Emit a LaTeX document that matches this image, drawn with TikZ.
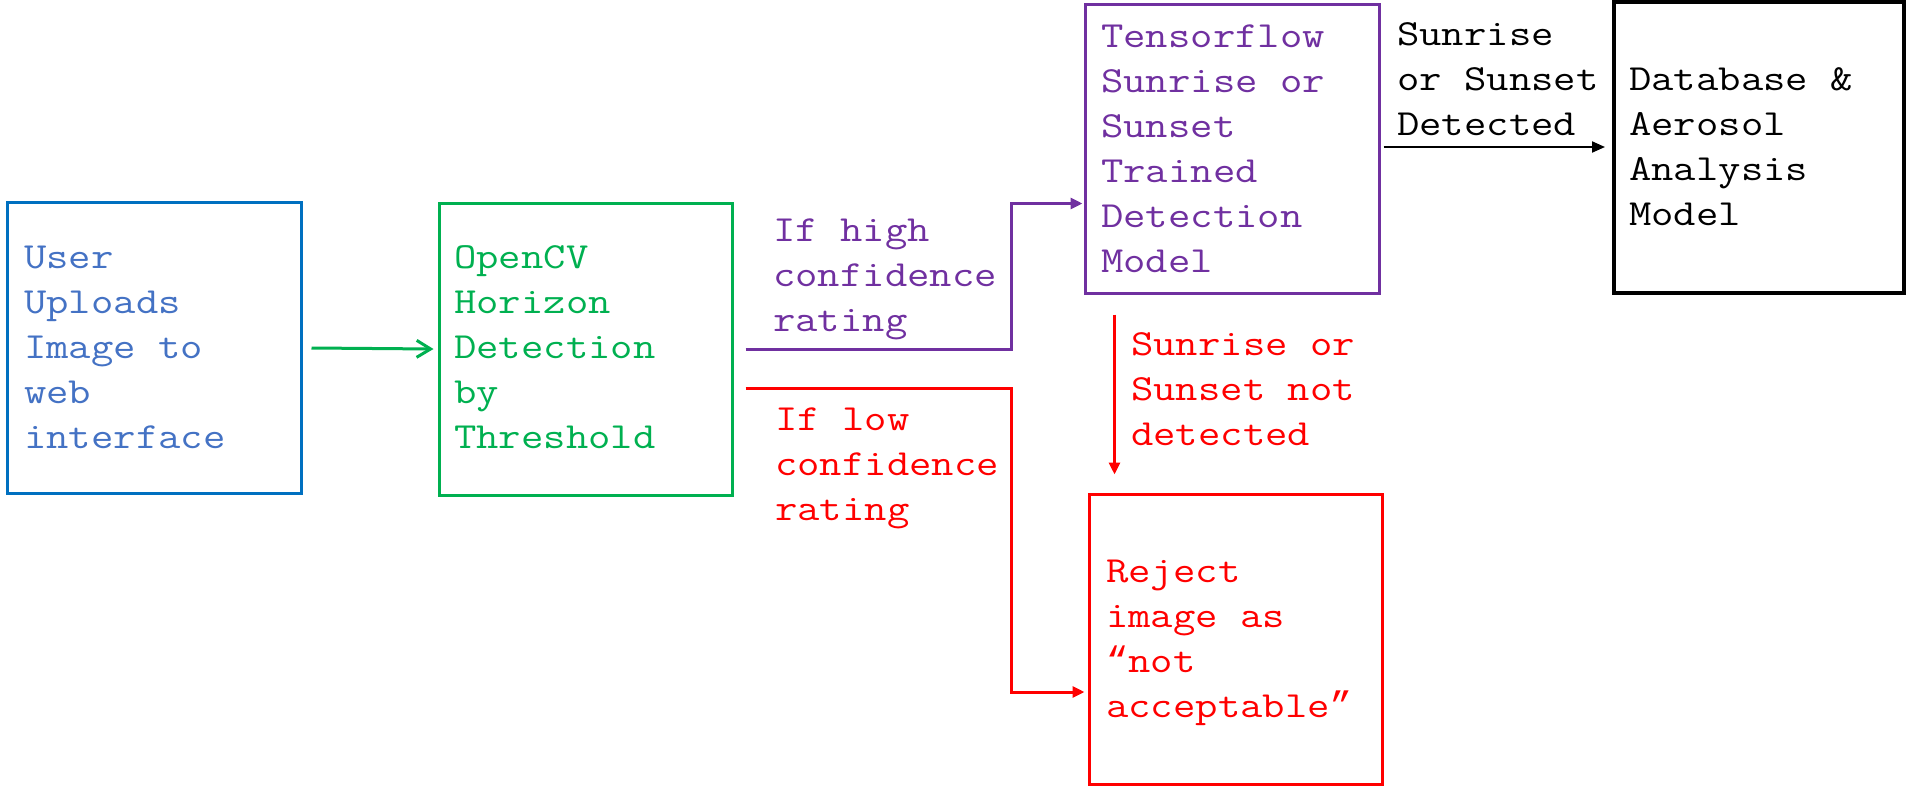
\documentclass[tikz,border=0pt]{standalone}
\usepackage{fontspec}
\setmonofont[FakeStretch=1.18]{Latin Modern Mono}
\newfontfamily\quotefont{Liberation Mono}
\usetikzlibrary{arrows.meta,calc}
\definecolor{cblue}{HTML}{0070C0}
\definecolor{ctblue}{HTML}{4472C4}
\definecolor{cgreen}{HTML}{00B050}
\definecolor{cpurple}{HTML}{7030A0}
\definecolor{cred}{HTML}{FF0000}
\begin{document}
\begin{tikzpicture}[x=1pt,y=-1pt,
  box/.style={draw,line width=3pt,inner sep=0pt},
  txt/.style={inner sep=0pt,anchor=base west,align=left,font=\ttfamily\fontsize{36.8}{45}\selectfont},
  conn/.style={line width=3pt},
  tri/.style={-{Triangle[length=12pt,width=11pt]}}]
\useasboundingbox (0,0) rectangle (1907,787);
% boxes
\node[box,cblue,minimum width=294pt,minimum height=291pt] (b1) at (154,348) {};
\node[box,cgreen,minimum width=293pt,minimum height=292pt] (b2) at (585.5,349) {};
\node[box,cpurple,minimum width=294pt,minimum height=289pt] (b3) at (1232,148.5) {};
\node[box,cred,minimum width=293pt,minimum height=290pt] (b4) at (1235.5,639) {};
\node[box,black,line width=4pt,minimum width=290pt,minimum height=291pt] (b5) at (1759,147) {};
% texts (anchored at the baseline of the last line)
\node[txt,ctblue] (t1) at (24,448) {User\\Uploads\\Image to\\web\\interface};
\node[txt,cgreen] (t2) at (454,448) {OpenCV\\Horizon\\Detection\\by\\Threshold};
\node[txt,cpurple] (t3) at (1101,272) {Tensorflow\\Sunrise or\\Sunset\\Trained\\Detection\\Model};
\node[txt,cred] (t4) at (1106,717) {Reject\\image as\\{\quotefont “}not\\acceptable{\quotefont ”}};
\node[txt,black] (t5) at (1629,225) {Database \&\\Aerosol\\Analysis\\Model};
\node[txt,cpurple] (l1) at (773,331) {If high\\confidence\\rating};
\node[txt,cred] (l2) at (775,520) {If low\\confidence\\rating};
\node[txt,cred] (l3) at (1131,445) {Sunrise or\\Sunset not\\detected};
\node[txt,black] (l4) at (1397,135) {Sunrise\\or Sunset\\Detected};
% connectors
\draw[conn,cgreen,-{Straight Barb[length=14pt,width=17pt,line width=3pt]}] ([xshift=9pt]b1.east) -- ([xshift=-4pt]b2.west);
\coordinate (p0) at ($(b2.east)+(12,0)$);
\coordinate (p1) at ($(b3.west)+(-1,55)$);
\draw[conn,cpurple,tri] (p0) -- (1011,349) |- (p1);
\coordinate (r0) at ($(b2.east)+(12,39)$);
\coordinate (r1) at ($(b4.west)+(-3,53)$);
\draw[conn,cred,tri] (r0) -- (1011,388) |- (r1);
\coordinate (d0) at ($(b3.south west)+(31,20)$);
\coordinate (d1) at ($(b4.north west)+(27,-18)$);
\draw[conn,cred,tri] (d0) -- (d1);
\draw[line width=2pt,black,-{Triangle[length=13pt,width=11pt]}] ([xshift=3pt]b3.east |- b5.west) -- ([xshift=-7pt]b5.west);
\end{tikzpicture}
\end{document}
